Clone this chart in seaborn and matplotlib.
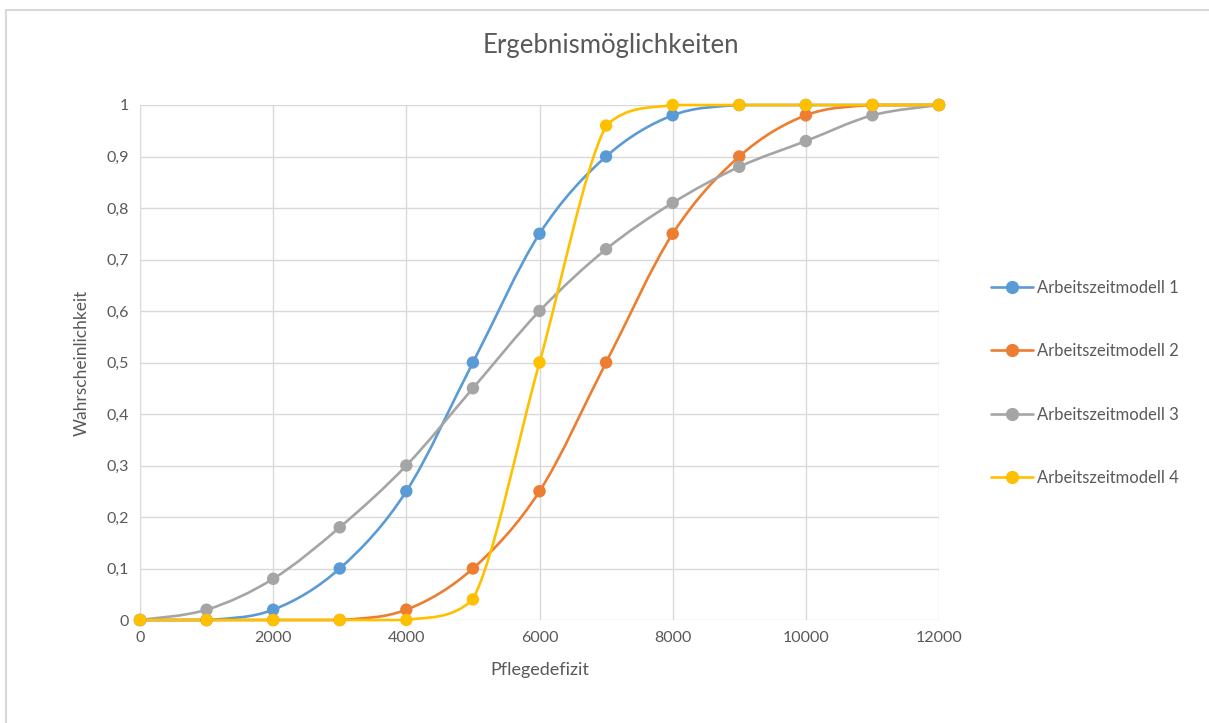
import numpy as np
import pandas as pd
import seaborn as sns
import matplotlib.pyplot as plt
from matplotlib.path import Path
from matplotlib.patches import PathPatch, Rectangle
from matplotlib.lines import Line2D

# Pflegedefizit (x) and probability per working-time model
deficit = [0, 1000, 2000, 3000, 4000, 5000, 6000, 7000, 8000, 9000, 10000, 11000, 12000]
model_1 = [0, 0, 0.02, 0.10, 0.25, 0.50, 0.75, 0.90, 0.98, 1, 1, 1, 1]
model_2 = [0, 0, 0, 0, 0.02, 0.10, 0.25, 0.50, 0.75, 0.90, 0.98, 1, 1]
model_3 = [0, 0.02, 0.08, 0.18, 0.30, 0.45, 0.60, 0.72, 0.81, 0.88, 0.93, 0.98, 1]
model_4 = [0, 0, 0, 0, 0, 0.04, 0.50, 0.96, 1, 1, 1, 1, 1]

names = ['Arbeitszeitmodell 1', 'Arbeitszeitmodell 2', 'Arbeitszeitmodell 3', 'Arbeitszeitmodell 4']
colors = ['#5B9BD5', '#ED7D31', '#A5A5A5', '#FFC000']
x_ticks = [0, 2000, 4000, 6000, 8000, 10000, 12000]
y_ticks = [0, 0.1, 0.2, 0.3, 0.4, 0.5, 0.6, 0.7, 0.8, 0.9, 1]
y_labels = ['0', '0,1', '0,2', '0,3', '0,4', '0,5', '0,6', '0,7', '0,8', '0,9', '1']

df = pd.concat([
    pd.DataFrame({'deficit': deficit, 'p': vals, 'model': name})
    for name, vals in zip(names, [model_1, model_2, model_3, model_4])
])

sns.set_style('white')
plt.rcParams['font.family'] = ['Lato', 'DejaVu Sans']
text_color = '#595959'
grid_color = '#D9D9D9'


def smooth_path(x, y):
    """Excel-like smoothed line: cubic Bezier through the points, no overshoot"""
    n = len(x)
    verts = [(x[0], y[0])]
    codes = [Path.MOVETO]
    for i in range(n - 1):
        a = max(i - 1, 0)
        b = min(i + 2, n - 1)
        lo, hi = min(y[i], y[i + 1]), max(y[i], y[i + 1])
        c1y = np.clip(y[i] + (y[i + 1] - y[a]) / 6, lo, hi)
        c2y = np.clip(y[i + 1] - (y[b] - y[i]) / 6, lo, hi)
        c1 = (x[i] + (x[i + 1] - x[a]) / 6, c1y)
        c2 = (x[i + 1] - (x[b] - x[i]) / 6, c2y)
        verts += [c1, c2, (x[i + 1], y[i + 1])]
        codes += [Path.CURVE4] * 3
    return Path(verts, codes)


fig = plt.figure(figsize=(12.09, 7.23), dpi=100)
ax = fig.add_axes([140 / 1209, 1 - 620 / 723, (939 - 140) / 1209, (620 - 105) / 723])

for name, color in zip(names, colors):
    sub = df[df['model'] == name]
    patch = PathPatch(smooth_path(sub['deficit'].tolist(), sub['p'].tolist()),
                      facecolor='none', edgecolor=color, lw=1.9, zorder=3,
                      clip_on=False, capstyle='round')
    ax.add_patch(patch)

sns.scatterplot(data=df, x='deficit', y='p', hue='model', palette=colors,
                s=80, edgecolor='none', legend=False, zorder=4, clip_on=False, ax=ax)

ax.set_xlim(0, 12000)
ax.set_ylim(0, 1)
ax.set_xticks(x_ticks)
ax.set_xticklabels([str(t) for t in x_ticks])
ax.set_yticks(y_ticks)
ax.set_yticklabels(y_labels)
ax.tick_params(axis='both', length=0, labelsize=11.5, colors=text_color, pad=8)
ax.grid(True, color=grid_color, lw=1)
ax.set_axisbelow(True)
for s in ax.spines.values():
    s.set_visible(False)

ax.set_xlabel('Pflegedefizit', fontsize=13, color=text_color, labelpad=12)
ax.set_ylabel('Wahrscheinlichkeit', fontsize=12.5, color=text_color, labelpad=12)
fig.text(611 / 1209, 1 - 45 / 723, 'Ergebnismöglichkeiten', ha='center', va='center',
         fontsize=18.5, color=text_color)

handles = [Line2D([], [], color=c, lw=1.9, marker='o', markersize=8.5) for c in colors]
fig.legend(handles, names, loc='center left', bbox_to_anchor=(983 / 1209, 1 - 383 / 723),
           frameon=False, fontsize=12, labelcolor=text_color, handlelength=2.5,
           handletextpad=0.25, labelspacing=2.85, borderpad=0)

fig.add_artist(Rectangle((6 / 1209, -0.05), 1.2, 1 - 10 / 723 + 0.05, transform=fig.transFigure,
                         facecolor='none', edgecolor='#D9D9D9', lw=1.5))

fig.savefig('out.png', dpi=100)
